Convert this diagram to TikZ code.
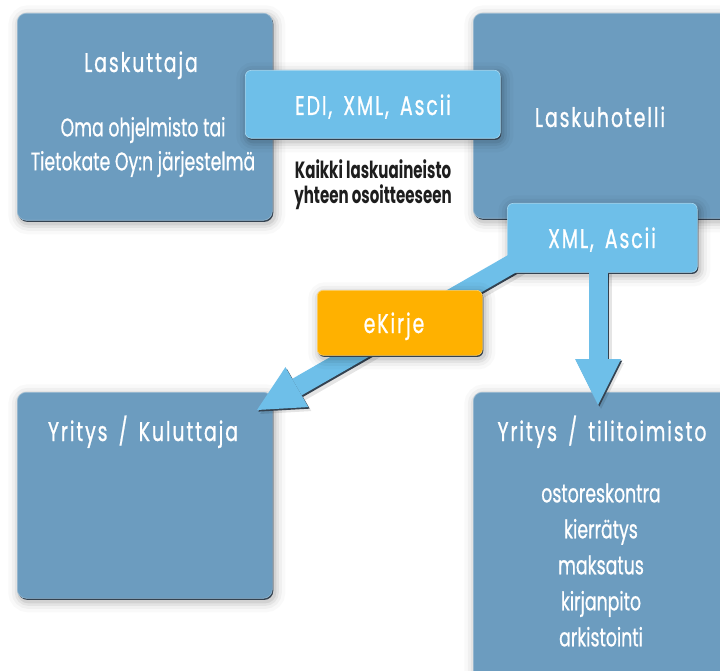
\documentclass[tikz,border=0pt]{standalone}
\usepackage{fontspec}
\setmainfont{Poppins}
\newfontfamily\headfont{Poppins}[FakeStretch=0.70, LetterSpace=7, WordSpace=1.6, FakeBold=0.8]
\newfontfamily\plainfont{Poppins}[FakeStretch=0.68, FakeBold=0.6]
\newfontfamily\notefont{Poppins}[FakeStretch=0.64]
\usetikzlibrary{arrows.meta,calc}

\definecolor{panelblue}{RGB}{108,156,191}
\definecolor{panelrim}{RGB}{52,66,80}
\definecolor{tagblue}{RGB}{110,191,233}
\definecolor{tagorange}{RGB}{255,177,0}
\definecolor{notegray}{RGB}{30,30,30}

\tikzset{
  softshadow/.style={
    preaction={draw=black, draw opacity=0.025, line width=22pt, transform canvas={shift={(2pt,-3pt)}}},
    preaction={draw=black, draw opacity=0.035, line width=15pt, transform canvas={shift={(2pt,-3pt)}}},
    preaction={draw=black, draw opacity=0.05, line width=9pt, transform canvas={shift={(2pt,-3pt)}}},
    preaction={draw=black, draw opacity=0.07, line width=4pt, transform canvas={shift={(2pt,-3pt)}}},
    preaction={fill=panelrim, transform canvas={shift={(1pt,-1.6pt)}}}
  },
  panel/.style={rectangle, rounded corners=9pt, anchor=north west, inner sep=0pt,
    fill=panelblue, draw=panelblue!70!white, line width=0.6pt, softshadow},
  tag/.style={rectangle, rounded corners=6pt, anchor=north west, inner sep=0pt,
    fill=tagblue, draw=tagblue!60!white, line width=0.6pt, softshadow},
  headtxt/.style={text=white, anchor=base, inner sep=0pt,
    font=\headfont\fontsize{27}{32}\selectfont},
  bodytxt/.style={text=white, anchor=center, inner sep=0pt, align=center,
    font=\plainfont\fontsize{25.5}{#1}\selectfont},
  notetxt/.style={text=notegray, anchor=center, inner sep=0pt, align=center,
    font=\notefont\bfseries\fontsize{23.5}{25}\selectfont},
  flowtip/.style={-{Triangle[width=46pt,length=46pt,line width=0pt]}},
  flowrim/.style={flowtip, line width=19pt, draw=panelrim, fill=panelrim,
    transform canvas={shift={(1.3pt,-1.6pt)}}},
  flowhaze/.style={flowtip, line width=21pt, draw=black, fill=black, opacity=0.10,
    transform canvas={shift={(3pt,-4pt)}}},
  flowarrow/.style={flowtip, line width=19pt, draw=tagblue, fill=tagblue}
}

\begin{document}
\begin{tikzpicture}[x=1pt, y=-1pt]
  \path[use as bounding box, fill=white] (0,0) rectangle (720,671);
  \clip (0,0) rectangle (720,671);

  % main panels
  \node[panel, minimum width=255pt, minimum height=207pt] (lask)  at (17,13)  {};
  \node[panel, minimum width=270pt, minimum height=205pt] (hotel) at (473,13) {};
  \node[panel, minimum width=255pt, minimum height=206pt] (kul)   at (17,392) {};
  \node[panel, minimum width=270pt, minimum height=300pt] (tili)  at (473,392) {};

  % format tag between sender and invoice hotel
  \node[tag, minimum width=255pt, minimum height=68pt] (edi) at (245,70) {};

  % arrow tips
  \coordinate (dtip) at (598,405);
  \coordinate (ltip) at (257,410);
  % roots of the two arrows, inside the output format tag
  \coordinate (droot) at (598,262);
  \coordinate (lroot) at (522,258);

  % shadows under the outgoing arrows
  \draw[flowhaze] (droot) -- (dtip);
  \draw[flowhaze] (lroot) -- (ltip);
  \draw[flowrim] (droot) -- (dtip);
  \draw[flowrim] (lroot) -- (ltip);

  % output format tag
  \node[tag, minimum width=190pt, minimum height=69pt] (xml) at (507,203) {};

  % outgoing arrows
  \draw[flowarrow] (droot) -- (dtip);
  \draw[flowarrow] (lroot) -- (ltip);

  % eKirje tag sitting on the diagonal arrow
  \node[tag, minimum width=165pt, minimum height=65pt, fill=tagorange, draw=tagorange!60!white] (ekirje) at (317,290) {};

  % texts
  \node[headtxt] (laskT)  at (141,72)  {Laskuttaja};
  \node[bodytxt=34] (laskB) at (143,147) {Oma ohjelmisto tai\\Tietokate Oy:n järjestelmä};
  \node[headtxt] (ediT)   at (373,115) {EDI, XML, Ascii};
  \node[headtxt] (hotelT) at (600,127) {Laskuhotelli};
  \node[notetxt] (note)   at (373,185) {Kaikki laskuaineisto\\yhteen osoitteeseen};
  \node[headtxt] (xmlT)   at (602,248) {XML, Ascii};
  \node[headtxt] (ekT)    at (394,333) {eKirje};
  \node[headtxt] (kulT)   at (143,441) {Yritys / Kuluttaja};
  \node[headtxt] (tiliT)  at (602,441) {Yritys / tilitoimisto};
  \node[bodytxt=36] (tiliB) at (601,565) {ostoreskontra\\kierrätys\\maksatus\\kirjanpito\\arkistointi};
\end{tikzpicture}
\end{document}
